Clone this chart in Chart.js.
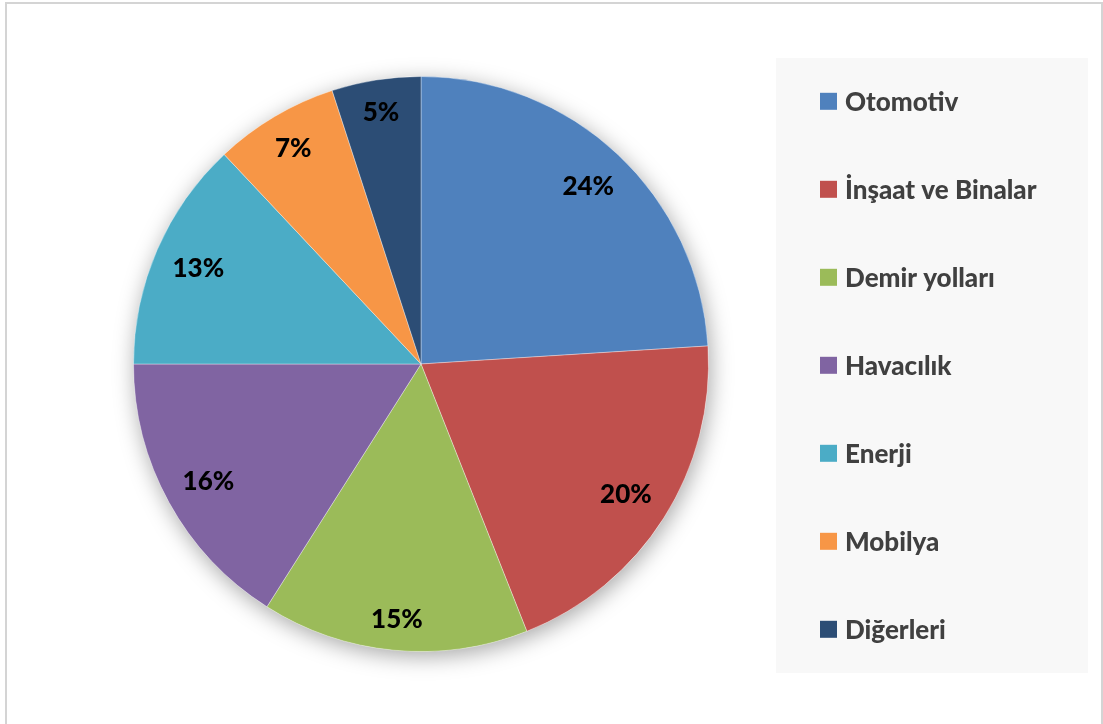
<!DOCTYPE html>
<html>
<head>
<meta charset="utf-8">
<script src="https://cdn.jsdelivr.net/npm/chart.js@4.4.1/dist/chart.umd.min.js"></script>
<style>
html, body { margin: 0; padding: 0; background: #fff; }
#wrap { position: relative; width: 1103px; height: 724px; overflow: hidden; }
#frame { position: absolute; left: 5px; top: 2px; width: 1098px; height: 740px; border: 2px solid #d4d4d4; box-sizing: border-box; }
canvas { position: absolute; left: 0; top: 0; }
</style>
</head>
<body>
<div id="wrap">
  <div id="frame"></div>
  <canvas id="pie_chart" width="1103" height="724"></canvas>
</div>
<script>
// sectors, share of each (percent) and the Office-style palette
const sectors = ["Otomotiv", "İnşaat ve Binalar", "Demir yolları", "Havacılık", "Enerji", "Mobilya", "Diğerleri"];
const shares = [24, 20, 15, 16, 13, 7, 5];
const sectorColors = ["#4F81BD", "#C0504D", "#9BBB59", "#8064A2", "#4BACC6", "#F79646", "#2C4D75"];

const FONT = "Lato, 'Open Sans', sans-serif";

// soft shadow under the whole pie
const pieShadow = {
    id: "pieShadow",
    beforeDatasetsDraw(chart) {
        const arc = chart.getDatasetMeta(0).data[0];
        const ctx = chart.ctx;
        ctx.save();
        ctx.shadowColor = "rgba(0,0,0,0.35)";
        ctx.shadowBlur = 22;
        ctx.shadowOffsetX = 2;
        ctx.shadowOffsetY = 5;
        ctx.fillStyle = "#ffffff";
        ctx.beginPath();
        ctx.arc(arc.x, arc.y, arc.outerRadius, 0, Math.PI * 2);
        ctx.fill();
        ctx.restore();
    }
};

// percentage labels near the outer edge of each slice
const sliceLabels = {
    id: "sliceLabels",
    afterDatasetsDraw(chart) {
        const ctx = chart.ctx;
        const values = chart.data.datasets[0].data;
        const total = values.reduce((a, b) => a + b, 0);
        ctx.save();
        ctx.font = "900 26px " + FONT;
        ctx.fillStyle = "#000000";
        ctx.textAlign = "center";
        ctx.textBaseline = "middle";
        chart.getDatasetMeta(0).data.forEach((arc, i) => {
            const txt = Math.round(values[i] / total * 100) + "%";
            const mid = (arc.startAngle + arc.endAngle) / 2;
            const hw = ctx.measureText(txt).width / 2;
            const hh = 13;
            const ext = Math.abs(hw * Math.cos(mid)) + Math.abs(hh * Math.sin(mid));
            const d = arc.outerRadius - 16 - ext;
            ctx.fillText(txt, arc.x + d * Math.cos(mid), arc.y + d * Math.sin(mid) + 1);
        });
        ctx.restore();
    }
};

// legend on a light gray panel at the right
const sideLegend = {
    id: "sideLegend",
    afterDraw(chart) {
        const ctx = chart.ctx;
        const labels = chart.data.labels;
        const colors = chart.data.datasets[0].backgroundColor;
        ctx.save();
        ctx.fillStyle = "#f8f8f8";
        ctx.fillRect(776, 58, 312, 615);
        ctx.font = "900 26px " + FONT;
        ctx.textAlign = "left";
        ctx.textBaseline = "middle";
        labels.forEach((label, i) => {
            const cy = 101.3 + i * 88;
            ctx.fillStyle = colors[i];
            ctx.fillRect(820, cy - 8.5, 17, 17);
            ctx.fillStyle = "#404040";
            ctx.fillText(label, 845, cy + 1);
        });
        ctx.restore();
    }
};

const pieChart = new Chart(document.getElementById("pie_chart"), {
    type: "pie",
    data: {
        labels: sectors,
        datasets: [{
            data: shares,
            backgroundColor: sectorColors,
            borderColor: "rgba(255,255,255,0.35)",
            borderWidth: 1,
            hoverOffset: 0
        }]
    },
    options: {
        responsive: false,
        animation: false,
        layout: { padding: { left: 133, right: 394, top: 76, bottom: 72 } },
        plugins: {
            legend: { display: false },
            tooltip: { enabled: false }
        }
    },
    plugins: [pieShadow, sliceLabels, sideLegend]
});
</script>
</body>
</html>
